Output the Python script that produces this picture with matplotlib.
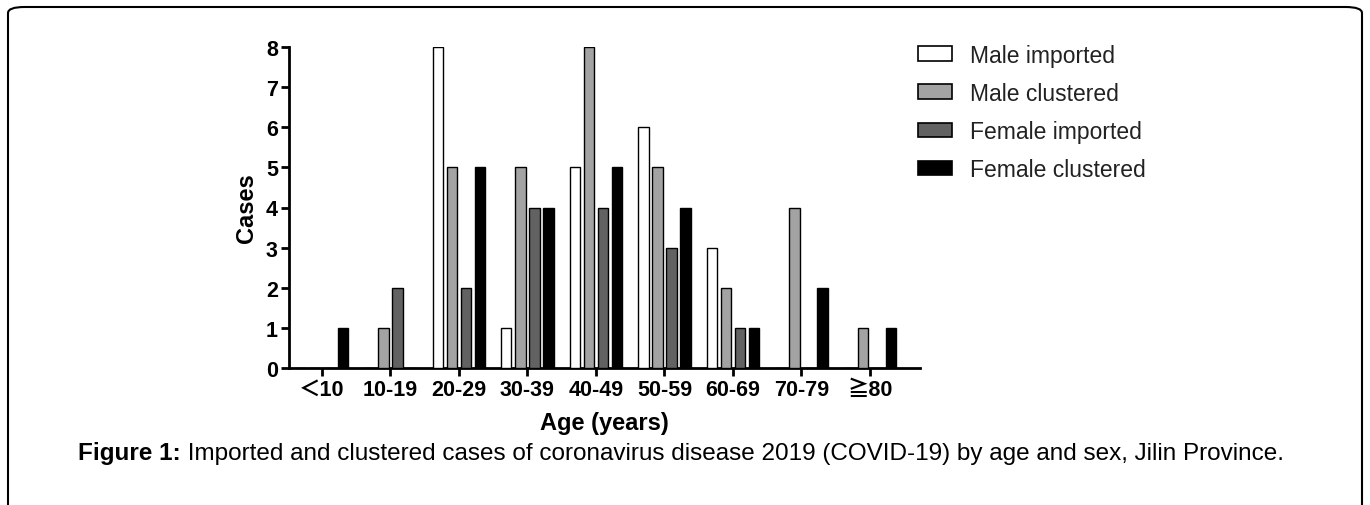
import matplotlib
matplotlib.use("Agg")
import matplotlib.pyplot as plt
import numpy as np
from matplotlib.patches import Patch, FancyBboxPatch

categories = ["＜10", "10-19", "20-29", "30-39", "40-49", "50-59", "60-69", "70-79", "≧80"]
male_imported = [0, 0, 8, 1, 5, 6, 3, 0, 0]
male_clustered = [0, 1, 5, 5, 8, 5, 2, 4, 1]
female_imported = [0, 2, 2, 4, 4, 3, 1, 0, 0]
female_clustered = [1, 0, 5, 4, 5, 4, 1, 2, 1]
series_names = ["Male imported", "Male clustered", "Female imported", "Female clustered"]
colors = ["#ffffff", "#a3a3a3", "#626262", "#000000"]

plt.rcParams['font.family'] = ['Liberation Sans', 'Noto Sans CJK SC', 'DejaVu Sans']

W, H = 1370, 506
fig = plt.figure(figsize=(W / 100, H / 100), dpi=100)

# border
border = FancyBboxPatch((8 / W, -0.05), (1362 - 8) / W, 1.05 - 8 / H,
                        boxstyle="round,pad=0,rounding_size=0.012",
                        transform=fig.transFigure, fill=False, edgecolor="black",
                        linewidth=1.5, clip_on=False)
fig.patches.append(border)

ax = fig.add_axes([289 / W, 1 - 369 / H, (920 - 289) / W, (369 - 48) / H])
x = np.arange(len(categories))
slot = 0.205
bw = 0.15
data = [male_imported, male_clustered, female_imported, female_clustered]
for i, (vals, c) in enumerate(zip(data, colors)):
    ax.bar(x + (i - 1.5) * slot, vals, width=bw, color=c, edgecolor="black", linewidth=1.0, zorder=3)

ax.set_xlim(-0.48, 8.73)
ax.set_ylim(0, 8)
ax.set_yticks(range(0, 9))
ax.set_xticks(x)
ax.set_xticklabels(categories, fontsize=15.5, fontweight="bold")
for lab in ax.get_yticklabels():
    lab.set_fontsize(15.5)
    lab.set_fontweight("bold")
ax.spines["top"].set_visible(False)
ax.spines["right"].set_visible(False)
ax.spines["left"].set_linewidth(2)
ax.spines["bottom"].set_linewidth(2)
ax.tick_params(axis="both", direction="out", length=6, width=2, pad=2)
ax.set_ylabel("Cases", fontsize=17, fontweight="bold", labelpad=6)
ax.set_xlabel("Age (years)", fontsize=17, fontweight="bold", labelpad=8)

handles = [Patch(facecolor=c, edgecolor="black", linewidth=1.2) for c in colors]
fig.legend(handles, series_names, loc="upper left", bbox_to_anchor=(897 / W, 1 - 24 / H),
           frameon=False, fontsize=16.5, handlelength=1.5, handleheight=0.6,
           labelspacing=0.66, handletextpad=0.8, labelcolor="#222222")

t1 = fig.text(78 / W, 1 - 460 / H, "Figure 1:", fontsize=17.5, fontweight="bold", va="baseline", ha="left")
fig.canvas.draw()
ax.annotate(" Imported and clustered cases of coronavirus disease 2019 (COVID-19) by age and sex, Jilin Province.",
            xy=(1, 0), xycoords=t1, va="bottom", ha="left", fontsize=17.5, annotation_clip=False)

fig.savefig("out.png", dpi=100)
